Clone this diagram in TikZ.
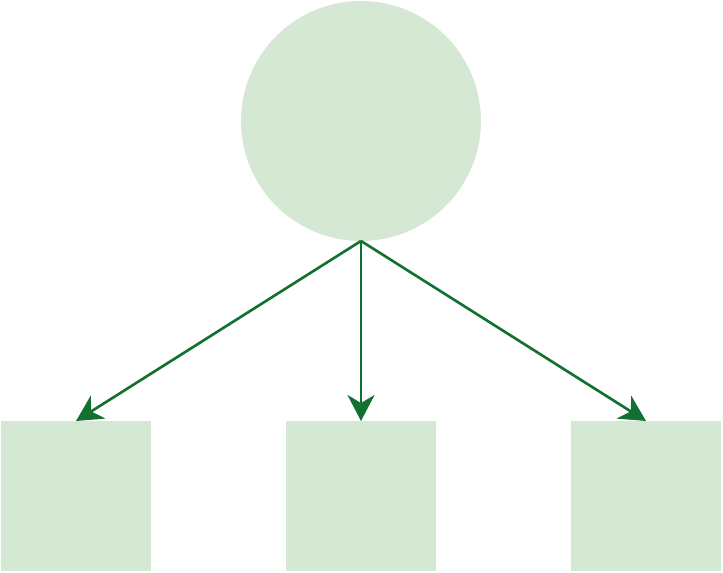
\documentclass[tikz,border=0pt]{standalone}
\usepackage{tikz}
\usetikzlibrary{arrows.meta,positioning}
\definecolor{leaf}{RGB}{213,232,212}
\definecolor{stem}{RGB}{18,112,48}

\begin{document}
\begin{tikzpicture}[x=0.02cm,y=-0.02cm,>={Stealth[length=0.52cm,width=0.54cm,inset=0.16cm]}]
  \useasboundingbox (0,0) rectangle (723,573);
  \tikzset{box/.style={fill=leaf,draw=none,minimum size=3cm,inner sep=0pt,outer sep=0pt}}
  \node[circle,fill=leaf,minimum size=4.8cm,inner sep=0pt,outer sep=0pt] (root) at (361,121) {};
  \node[box] (L) at (76,496) {}; \node[box] (M) at (361,496) {}; \node[box] (R) at (646,496) {};
  \foreach \t in {L,M,R} {\draw[->,line width=1.5pt,stem] (root.south) -- (\t.north);}
\end{tikzpicture}
\end{document}
